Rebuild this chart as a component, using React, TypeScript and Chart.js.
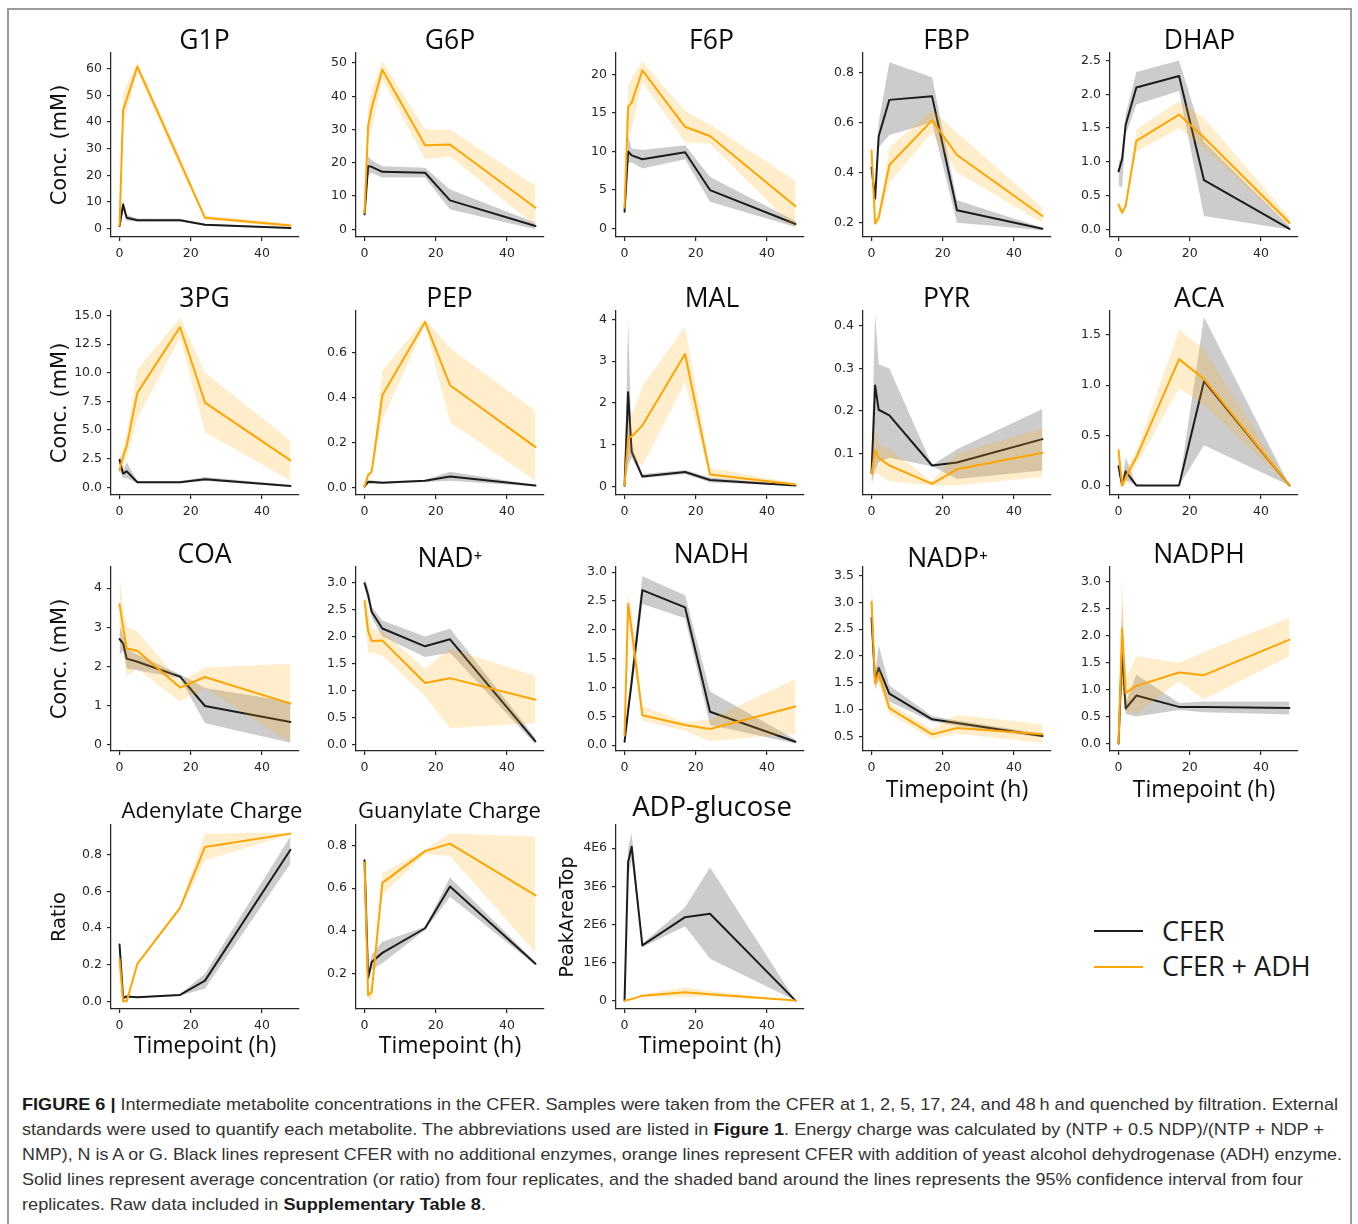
import React, { useEffect, useLayoutEffect, useRef } from "react";
import { Chart, registerables } from "chart.js";

Chart.register(...registerables);

// ---------------- data ----------------
const TIMEPOINTS = [0, 1, 2, 5, 17, 24, 48];
const X_TICKS = [0, 20, 40];
const SERIES = ["CFER", "CFER + ADH"];

// G1P
const G1P_CFER = [1.0, 9.1, 4.1, 3.2, 3.2, 1.5, 0.3];
const G1P_CFER_LO = [0.6, 7.0, 3.0, 2.6, 2.7, 1.1, 0.1];
const G1P_CFER_HI = [1.4, 11.0, 5.2, 3.8, 3.7, 1.9, 0.6];
const G1P_ADH = [1.2, 44.6, 48.5, 60.8, 25.0, 4.1, 1.2];
const G1P_ADH_LO = [0.6, 38.0, 44.0, 59.0, 23.0, 3.5, 0.6];
const G1P_ADH_HI = [1.8, 51.0, 54.0, 62.5, 27.0, 5.0, 2.0];
const G1P_TICKS = [0, 10, 20, 30, 40, 50, 60];

// G6P
const G6P_CFER = [4.5, 19.0, 18.8, 17.3, 17.0, 8.7, 1.0];
const G6P_CFER_LO = [3.6, 16.0, 17.0, 15.6, 15.6, 6.0, 0.0];
const G6P_CFER_HI = [5.5, 22.0, 20.8, 19.0, 18.5, 12.0, 2.0];
const G6P_ADH = [5.0, 31.0, 36.5, 48.0, 25.3, 25.5, 6.5];
const G6P_ADH_LO = [4.0, 25.5, 30.0, 45.0, 21.0, 22.0, 1.0];
const G6P_ADH_HI = [6.0, 37.0, 42.0, 50.5, 30.0, 30.0, 13.0];
const G6P_TICKS = [0, 10, 20, 30, 40, 50];

// F6P
const F6P_CFER = [2.2, 10.0, 9.5, 9.0, 9.9, 5.0, 0.6];
const F6P_CFER_LO = [1.8, 8.5, 8.6, 7.8, 9.0, 3.5, 0.2];
const F6P_CFER_HI = [3.0, 12.0, 10.4, 10.2, 10.8, 6.7, 1.0];
const F6P_ADH = [2.7, 15.8, 16.3, 20.5, 13.2, 12.0, 2.9];
const F6P_ADH_LO = [2.0, 11.5, 13.0, 19.0, 11.2, 11.0, 0.0];
const F6P_ADH_HI = [4.0, 18.5, 19.5, 21.7, 15.2, 13.5, 6.2];
const F6P_TICKS = [0, 5, 10, 15, 20];

// FBP
const FBP_CFER = [0.42, 0.297, 0.545, 0.69, 0.704, 0.25, 0.176];
const FBP_CFER_LO = [0.38, 0.28, 0.5, 0.55, 0.6, 0.2, 0.17];
const FBP_CFER_HI = [0.46, 0.31, 0.6, 0.84, 0.78, 0.29, 0.18];
const FBP_ADH = [0.488, 0.197, 0.22, 0.43, 0.608, 0.47, 0.227];
const FBP_ADH_LO = [0.44, 0.19, 0.2, 0.36, 0.56, 0.4, 0.2];
const FBP_ADH_HI = [0.52, 0.21, 0.24, 0.5, 0.65, 0.56, 0.26];
const FBP_TICKS = [0.2, 0.4, 0.6, 0.8];

// DHAP
const DHAP_CFER = [0.86, 1.04, 1.55, 2.1, 2.27, 0.73, 0.01];
const DHAP_CFER_LO = [0.65, 0.62, 1.4, 1.85, 2.05, 0.2, 0.0];
const DHAP_CFER_HI = [1.0, 1.1, 1.7, 2.33, 2.5, 1.3, 0.05];
const DHAP_ADH = [0.37, 0.25, 0.35, 1.31, 1.7, 1.36, 0.1];
const DHAP_ADH_LO = [0.3, 0.22, 0.3, 1.15, 1.5, 1.2, 0.05];
const DHAP_ADH_HI = [0.43, 0.28, 0.4, 1.48, 1.9, 1.65, 0.18];
const DHAP_TICKS = [0.0, 0.5, 1.0, 1.5, 2.0, 2.5];

// 3PG
const PG3_CFER = [2.4, 1.2, 1.4, 0.45, 0.45, 0.7, 0.12];
const PG3_CFER_LO = [1.5, 0.8, 0.8, 0.35, 0.35, 0.55, 0.05];
const PG3_CFER_HI = [3.1, 1.5, 2.2, 0.55, 0.55, 0.9, 0.2];
const PG3_ADH = [1.5, 2.7, 3.6, 8.25, 14.0, 7.4, 2.35];
const PG3_ADH_LO = [1.2, 2.0, 2.6, 6.0, 13.1, 4.8, 0.6];
const PG3_ADH_HI = [2.0, 3.6, 4.6, 10.3, 14.8, 10.0, 4.1];
const PG3_TICKS = [0.0, 2.5, 5.0, 7.5, 10.0, 12.5, 15.0];

// PEP
const PEP_CFER = [0.005, 0.025, 0.025, 0.022, 0.03, 0.049, 0.009];
const PEP_CFER_LO = [0.0, 0.015, 0.017, 0.018, 0.025, 0.03, 0.005];
const PEP_CFER_HI = [0.01, 0.035, 0.033, 0.027, 0.035, 0.07, 0.012];
const PEP_ADH = [0.005, 0.056, 0.07, 0.41, 0.736, 0.455, 0.18];
const PEP_ADH_LO = [0.0, 0.045, 0.06, 0.3, 0.72, 0.29, 0.03];
const PEP_ADH_HI = [0.01, 0.065, 0.08, 0.52, 0.75, 0.62, 0.34];
const PEP_TICKS = [0.0, 0.2, 0.4, 0.6];

// MAL
const MAL_CFER = [0.02, 2.26, 0.83, 0.24, 0.35, 0.16, 0.03];
const MAL_CFER_LO = [0.0, 0.5, 0.7, 0.2, 0.3, 0.1, 0.02];
const MAL_CFER_HI = [0.05, 4.0, 1.0, 0.3, 0.4, 0.22, 0.04];
const MAL_ADH = [0.03, 1.17, 1.2, 1.46, 3.17, 0.29, 0.05];
const MAL_ADH_LO = [0.0, 0.9, 0.7, 0.5, 2.5, 0.22, 0.03];
const MAL_ADH_HI = [0.05, 1.4, 1.7, 2.4, 3.83, 0.45, 0.08];
const MAL_TICKS = [0, 1, 2, 3, 4];

// PYR
const PYR_CFER = [0.055, 0.26, 0.203, 0.19, 0.072, 0.079, 0.134];
const PYR_CFER_LO = [0.03, 0.06, 0.08, 0.09, 0.07, 0.04, 0.06];
const PYR_CFER_HI = [0.09, 0.43, 0.31, 0.3, 0.073, 0.11, 0.205];
const PYR_ADH = [0.053, 0.108, 0.09, 0.072, 0.029, 0.063, 0.102];
const PYR_ADH_LO = [0.025, 0.055, 0.05, 0.035, 0.025, 0.025, 0.045];
const PYR_ADH_HI = [0.08, 0.16, 0.12, 0.11, 0.035, 0.1, 0.16];
const PYR_TICKS = [0.1, 0.2, 0.3, 0.4];

// ACA
const ACA_CFER = [0.19, 0.0, 0.14, 0.0, 0.0, 1.04, 0.0];
const ACA_CFER_LO = [0.1, 0.0, 0.05, 0.0, 0.0, 0.4, 0.0];
const ACA_CFER_HI = [0.3, 0.02, 0.28, 0.0, 0.0, 1.68, 0.0];
const ACA_ADH = [0.35, 0.0, 0.08, 0.28, 1.26, 1.06, 0.0];
const ACA_ADH_LO = [0.25, 0.0, 0.0, 0.2, 0.97, 0.8, 0.0];
const ACA_ADH_HI = [0.46, 0.02, 0.15, 0.34, 1.55, 1.36, 0.0];
const ACA_TICKS = [0.0, 0.5, 1.0, 1.5];

// COA
const COA_CFER = [2.7, 2.59, 2.2, 2.12, 1.74, 0.99, 0.58];
const COA_CFER_LO = [2.3, 2.4, 1.95, 1.9, 1.7, 0.55, 0.05];
const COA_CFER_HI = [3.05, 2.8, 2.45, 2.3, 1.8, 1.45, 1.1];
const COA_ADH = [3.59, 3.0, 2.46, 2.4, 1.46, 1.73, 1.05];
const COA_ADH_LO = [2.9, 2.5, 1.75, 1.95, 1.1, 1.45, 0.05];
const COA_ADH_HI = [4.35, 3.5, 3.0, 2.9, 1.6, 1.97, 2.07];
const COA_TICKS = [0, 1, 2, 3, 4];

// NAD+
const NAD_CFER = [2.99, 2.77, 2.46, 2.15, 1.82, 1.95, 0.06];
const NAD_CFER_LO = [2.9, 2.65, 2.35, 2.0, 1.62, 1.7, 0.0];
const NAD_CFER_HI = [3.1, 2.9, 2.55, 2.3, 2.0, 2.15, 0.12];
const NAD_ADH = [2.66, 2.1, 1.92, 1.93, 1.14, 1.23, 0.83];
const NAD_ADH_LO = [2.45, 1.7, 1.7, 1.65, 0.9, 0.3, 0.4];
const NAD_ADH_HI = [2.85, 2.5, 2.15, 2.1, 1.4, 1.78, 1.27];
const NAD_TICKS = [0.0, 0.5, 1.0, 1.5, 2.0, 2.5, 3.0];

// NADH
const NADH_CFER = [0.06, 0.6, 1.1, 2.69, 2.39, 0.58, 0.06];
const NADH_CFER_LO = [0.03, 0.45, 0.95, 2.45, 2.2, 0.35, 0.03];
const NADH_CFER_HI = [0.1, 0.75, 1.3, 2.93, 2.6, 0.93, 0.1];
const NADH_ADH = [0.17, 2.45, 2.0, 0.52, 0.35, 0.28, 0.67];
const NADH_ADH_LO = [0.1, 2.2, 1.7, 0.42, 0.25, 0.07, 0.2];
const NADH_ADH_HI = [0.25, 2.65, 2.3, 0.68, 0.4, 0.45, 1.15];
const NADH_TICKS = [0.0, 0.5, 1.0, 1.5, 2.0, 2.5, 3.0];

// NADP+
const NADP_CFER = [2.71, 1.53, 1.78, 1.3, 0.82, 0.75, 0.51];
const NADP_CFER_LO = [2.4, 1.4, 1.55, 1.15, 0.78, 0.7, 0.48];
const NADP_CFER_HI = [3.38, 1.65, 2.2, 1.45, 0.88, 0.8, 0.55];
const NADP_ADH = [3.01, 1.5, 1.68, 1.03, 0.54, 0.66, 0.54];
const NADP_ADH_LO = [2.7, 1.35, 1.5, 0.93, 0.45, 0.55, 0.38];
const NADP_ADH_HI = [3.48, 1.65, 1.85, 1.13, 0.63, 0.9, 0.73];
const NADP_TICKS = [0.5, 1.0, 1.5, 2.0, 2.5, 3.0, 3.5];

// NADPH
const NADPH_CFER = [0.0, 1.75, 0.65, 0.89, 0.68, 0.68, 0.66];
const NADPH_CFER_LO = [0.0, 1.1, 0.55, 0.5, 0.62, 0.58, 0.54];
const NADPH_CFER_HI = [0.02, 2.6, 0.75, 1.28, 0.75, 0.78, 0.78];
const NADPH_ADH = [0.0, 2.13, 0.94, 1.07, 1.32, 1.27, 1.93];
const NADPH_ADH_LO = [0.0, 1.2, 0.6, 0.55, 1.15, 0.82, 1.62];
const NADPH_ADH_HI = [0.02, 3.12, 1.2, 1.62, 1.5, 1.7, 2.33];
const NADPH_TICKS = [0.0, 0.5, 1.0, 1.5, 2.0, 2.5, 3.0];

// Adenylate Charge
const AEC_CFER = [0.31, 0.018, 0.026, 0.022, 0.035, 0.113, 0.827];
const AEC_CFER_LO = [0.29, 0.01, 0.02, 0.02, 0.03, 0.07, 0.75];
const AEC_CFER_HI = [0.33, 0.03, 0.03, 0.025, 0.04, 0.15, 0.9];
const AEC_ADH = [0.23, 0.0, 0.0, 0.204, 0.51, 0.842, 0.915];
const AEC_ADH_LO = [0.22, 0.0, 0.0, 0.2, 0.5, 0.77, 0.91];
const AEC_ADH_HI = [0.24, 0.005, 0.005, 0.21, 0.52, 0.915, 0.92];
const AEC_TICKS = [0.0, 0.2, 0.4, 0.6, 0.8];

// Guanylate Charge
const GEC_CFER = [0.73, 0.18, 0.255, 0.298, 0.413, 0.608, 0.247];
const GEC_CFER_LO = [0.7, 0.17, 0.22, 0.25, 0.405, 0.56, 0.24];
const GEC_CFER_HI = [0.76, 0.19, 0.29, 0.35, 0.42, 0.65, 0.255];
const GEC_ADH = [0.72, 0.1, 0.114, 0.625, 0.773, 0.808, 0.566];
const GEC_ADH_LO = [0.7, 0.09, 0.07, 0.57, 0.76, 0.75, 0.3];
const GEC_ADH_HI = [0.74, 0.11, 0.13, 0.67, 0.78, 0.855, 0.84];
const GEC_TICKS = [0.2, 0.4, 0.6, 0.8];

// ADP-glucose (PeakAreaTop)
const ADPG_CFER = [0, 3.64e6, 4.04e6, 1.45e6, 2.19e6, 2.28e6, 0];
const ADPG_CFER_LO = [0, 3.2e6, 3.7e6, 1.4e6, 1.95e6, 1.1e6, 0];
const ADPG_CFER_HI = [0, 4.0e6, 4.4e6, 1.5e6, 2.45e6, 3.5e6, 0];
const ADPG_ADH = [0, 0.02e6, 0.04e6, 0.13e6, 0.22e6, 0.17e6, 0];
const ADPG_ADH_LO = [0, 0.01e6, 0.03e6, 0.1e6, 0.1e6, 0.1e6, 0];
const ADPG_ADH_HI = [0, 0.03e6, 0.05e6, 0.16e6, 0.35e6, 0.25e6, 0];
const ADPG_TICKS = [0, 1e6, 2e6, 3e6, 4e6];

// ---------------- styling / layout ----------------
const COL_X = [111, 356, 616, 863, 1110];
const ROW_Y = [53, 311, 567, 825];
const PLOT_W = 188;
const PLOT_H = 184;
const PAD_L = 80;
const PAD_R = 14;
const X_MIN = -2.4;
const X_MAX = 50.4;

const INK = "#262626";
const BLACK = "#1c1c1c";
const ORANGE = "#ffa500";
const GRAY_BAND = "rgba(0,0,0,0.2)";
const ORANGE_BAND = "rgba(255,165,0,0.2)";
const TITLE_FONT = "'Open Sans', 'Noto Sans', sans-serif";
const TICK_FONT = "'DejaVu Sans', sans-serif";
const TICK_SIZE = 12.5;
const TITLE_LH = 0.8;

const fmtInt = (v: number) => String(Math.round(v));
const fmt1 = (v: number) => v.toFixed(1);
const fmtE6 = (v: number) => (v === 0 ? "0" : `${Math.round(v / 1e6)}E6`);

type Triple = [number[], number[], number[]];
type PanelSpec = {
  title: string;
  col: number;
  row: number;
  titleSize?: number;
  titleGap?: number;
  titleDx?: number;
  yMin: number;
  yMax: number;
  yTicks: number[];
  fmt: (v: number) => string;
  cfer: Triple;
  adh: Triple;
  yTitle?: string;
  yTitleSize?: number;
  yTitleX?: number;
  xTitleGap?: number;
};

const ROW_TITLE_GAP = [11.5, 11, 11, 13];

const PANELS: PanelSpec[] = [
  { title: "G1P", col: 0, row: 0, titleDx: -0.5, yMin: -3.1, yMax: 65.9, yTicks: G1P_TICKS, fmt: fmtInt,
    cfer: [G1P_CFER, G1P_CFER_LO, G1P_CFER_HI], adh: [G1P_ADH, G1P_ADH_LO, G1P_ADH_HI],
    yTitle: "Conc. (mM)", yTitleSize: 21, yTitleX: 61 },
  { title: "G6P", col: 1, row: 0, titleDx: 0, yMin: -2.3, yMax: 53, yTicks: G6P_TICKS, fmt: fmtInt,
    cfer: [G6P_CFER, G6P_CFER_LO, G6P_CFER_HI], adh: [G6P_ADH, G6P_ADH_LO, G6P_ADH_HI] },
  { title: "F6P", col: 2, row: 0, titleDx: 1.5, yMin: -1.08, yMax: 22.76, yTicks: F6P_TICKS, fmt: fmtInt,
    cfer: [F6P_CFER, F6P_CFER_LO, F6P_CFER_HI], adh: [F6P_ADH, F6P_ADH_LO, F6P_ADH_HI] },
  { title: "FBP", col: 3, row: 0, titleDx: -10.5, yMin: 0.143, yMax: 0.877, yTicks: FBP_TICKS, fmt: fmt1,
    cfer: [FBP_CFER, FBP_CFER_LO, FBP_CFER_HI], adh: [FBP_ADH, FBP_ADH_LO, FBP_ADH_HI] },
  { title: "DHAP", col: 4, row: 0, titleDx: -4.5, yMin: -0.11, yMax: 2.61, yTicks: DHAP_TICKS, fmt: fmt1,
    cfer: [DHAP_CFER, DHAP_CFER_LO, DHAP_CFER_HI], adh: [DHAP_ADH, DHAP_ADH_LO, DHAP_ADH_HI] },

  { title: "3PG", col: 0, row: 1, titleDx: -0.5, yMin: -0.67, yMax: 15.4, yTicks: PG3_TICKS, fmt: fmt1,
    cfer: [PG3_CFER, PG3_CFER_LO, PG3_CFER_HI], adh: [PG3_ADH, PG3_ADH_LO, PG3_ADH_HI],
    yTitle: "Conc. (mM)", yTitleSize: 21, yTitleX: 61 },
  { title: "PEP", col: 1, row: 1, titleDx: -0.5, yMin: -0.033, yMax: 0.785, yTicks: PEP_TICKS, fmt: fmt1,
    cfer: [PEP_CFER, PEP_CFER_LO, PEP_CFER_HI], adh: [PEP_ADH, PEP_ADH_LO, PEP_ADH_HI] },
  { title: "MAL", col: 2, row: 1, titleDx: 2, yMin: -0.2, yMax: 4.2, yTicks: MAL_TICKS, fmt: fmtInt,
    cfer: [MAL_CFER, MAL_CFER_LO, MAL_CFER_HI], adh: [MAL_ADH, MAL_ADH_LO, MAL_ADH_HI] },
  { title: "PYR", col: 3, row: 1, titleDx: -10.5, yMin: 0.0027, yMax: 0.435, yTicks: PYR_TICKS, fmt: fmt1,
    cfer: [PYR_CFER, PYR_CFER_LO, PYR_CFER_HI], adh: [PYR_ADH, PYR_ADH_LO, PYR_ADH_HI] },
  { title: "ACA", col: 4, row: 1, titleDx: -5, yMin: -0.096, yMax: 1.74, yTicks: ACA_TICKS, fmt: fmt1,
    cfer: [ACA_CFER, ACA_CFER_LO, ACA_CFER_HI], adh: [ACA_ADH, ACA_ADH_LO, ACA_ADH_HI] },

  { title: "COA", col: 0, row: 2, titleDx: -0.5, yMin: -0.16, yMax: 4.54, yTicks: COA_TICKS, fmt: fmtInt,
    cfer: [COA_CFER, COA_CFER_LO, COA_CFER_HI], adh: [COA_ADH, COA_ADH_LO, COA_ADH_HI],
    yTitle: "Conc. (mM)", yTitleSize: 21, yTitleX: 61 },
  { title: "NAD\u207A", col: 1, row: 2, titleGap: 7, titleDx: 0, yMin: -0.12, yMax: 3.29, yTicks: NAD_TICKS, fmt: fmt1,
    cfer: [NAD_CFER, NAD_CFER_LO, NAD_CFER_HI], adh: [NAD_ADH, NAD_ADH_LO, NAD_ADH_HI] },
  { title: "NADH", col: 2, row: 2, titleDx: 1.5, yMin: -0.1, yMax: 3.09, yTicks: NADH_TICKS, fmt: fmt1,
    cfer: [NADH_CFER, NADH_CFER_LO, NADH_CFER_HI], adh: [NADH_ADH, NADH_ADH_LO, NADH_ADH_HI] },
  { title: "NADP\u207A", col: 3, row: 2, titleGap: 7, titleDx: -9.5, yMin: 0.23, yMax: 3.66, yTicks: NADP_TICKS, fmt: fmt1,
    cfer: [NADP_CFER, NADP_CFER_LO, NADP_CFER_HI], adh: [NADP_ADH, NADP_ADH_LO, NADP_ADH_HI],
    xTitleGap: 39 },
  { title: "NADPH", col: 4, row: 2, titleDx: -5, yMin: -0.14, yMax: 3.28, yTicks: NADPH_TICKS, fmt: fmt1,
    cfer: [NADPH_CFER, NADPH_CFER_LO, NADPH_CFER_HI], adh: [NADPH_ADH, NADPH_ADH_LO, NADPH_ADH_HI],
    xTitleGap: 39 },

  { title: "Adenylate Charge", col: 0, row: 3, titleSize: 22, titleDx: 7, yMin: -0.042, yMax: 0.962, yTicks: AEC_TICKS, fmt: fmt1,
    cfer: [AEC_CFER, AEC_CFER_LO, AEC_CFER_HI], adh: [AEC_ADH, AEC_ADH_LO, AEC_ADH_HI],
    yTitle: "Ratio", yTitleSize: 19.5, yTitleX: 60, xTitleGap: 37 },
  { title: "Guanylate Charge", col: 1, row: 3, titleSize: 22, titleDx: -0.5, yMin: 0.036, yMax: 0.895, yTicks: GEC_TICKS, fmt: fmt1,
    cfer: [GEC_CFER, GEC_CFER_LO, GEC_CFER_HI], adh: [GEC_ADH, GEC_ADH_LO, GEC_ADH_HI],
    xTitleGap: 37 },
  { title: "ADP-glucose", col: 2, row: 3, titleSize: 27.5, titleGap: 17, titleDx: 2, yMin: -0.22e6, yMax: 4.61e6, yTicks: ADPG_TICKS, fmt: fmtE6,
    cfer: [ADPG_CFER, ADPG_CFER_LO, ADPG_CFER_HI], adh: [ADPG_ADH, ADPG_ADH_LO, ADPG_ADH_HI],
    yTitle: "PeakAreaTop", yTitleSize: 19, yTitleX: 568, xTitleGap: 37 },
];

const toPts = (arr: number[]) => TIMEPOINTS.map((t, i) => ({ x: t, y: arr[i] }));

function PanelChart({ p }: { p: PanelSpec }) {
  const ref = useRef<HTMLCanvasElement | null>(null);
  const titleSize = p.titleSize ?? 26.5;
  const titleLh = titleSize * TITLE_LH;
  const titleGap = p.titleGap ?? ROW_TITLE_GAP[p.row];
  const titlePadTop = 6;
  const titlePadBot = titleGap - titleLh / 2;
  const titleH = titlePadTop + titleLh + titlePadBot;
  const hasX = p.xTitleGap !== undefined;
  const xH = hasX ? 64 : 30;
  const xTitleSize = 23;
  const left = COL_X[p.col] - PAD_L;
  const top = Math.round(ROW_Y[p.row] - titleH);
  const width = PAD_L + PLOT_W + PAD_R;
  const height = ROW_Y[p.row] - top + PLOT_H + xH;

  useEffect(() => {
    if (!ref.current) return;
    const lineDs = (arr: number[], color: string, order: number, label: string) => ({
      label,
      data: toPts(arr),
      borderColor: color,
      borderWidth: 2,
      pointRadius: 0,
      tension: 0,
      fill: false,
      borderJoinStyle: "round",
      borderCapStyle: "round",
      order,
    });
    const bandDs = (arr: number[], color: string | undefined, order: number, fill: any) => ({
      label: "band",
      data: toPts(arr),
      borderColor: "rgba(0,0,0,0)",
      borderWidth: 0,
      pointRadius: 0,
      tension: 0,
      backgroundColor: color ?? "rgba(0,0,0,0)",
      fill,
      order,
    });
    const yTitleOffset = p.yTitle ? (p.yTitleX ?? 61) - left - (p.yTitleSize ?? 20) / 2 : 0;
    const dx = p.titleDx ?? 0;
    const titleShift = {
      id: "titleShift",
      afterLayout(chart: any) {
        const tb = chart.titleBlock;
        if (tb) {
          tb.left += dx;
          tb.right += dx;
        }
      },
    };
    const chart = new Chart(ref.current, {
      type: "line",
      data: {
        datasets: [
          bandDs(p.cfer[1], undefined, 6, false),
          bandDs(p.cfer[2], GRAY_BAND, 5, "-1"),
          lineDs(p.cfer[0], BLACK, 4, SERIES[0]),
          bandDs(p.adh[1], undefined, 3, false),
          bandDs(p.adh[2], ORANGE_BAND, 2, "-1"),
          lineDs(p.adh[0], ORANGE, 1, SERIES[1]),
        ] as any,
      },
      plugins: [titleShift],
      options: {
        animation: false,
        responsive: false,
        maintainAspectRatio: false,
        devicePixelRatio: 1,
        events: [],
        layout: { padding: { left: 0, right: PAD_R, top: 0, bottom: 0 } },
        plugins: {
          legend: { display: false },
          tooltip: { enabled: false },
          title: {
            display: true,
            text: p.title,
            fullSize: false,
            color: "#0d0d0d",
            font: { family: TITLE_FONT, size: titleSize, weight: "normal", lineHeight: TITLE_LH },
            padding: { top: titlePadTop, bottom: ROW_Y[p.row] - top - titlePadTop - titleLh },
          },
        },
        scales: {
          x: {
            type: "linear",
            min: X_MIN,
            max: X_MAX,
            afterBuildTicks: (s: any) => {
              s.ticks = X_TICKS.map((v) => ({ value: v }));
            },
            afterFit: (s: any) => {
              s.height = xH;
            },
            grid: { drawOnChartArea: false, drawTicks: true, tickLength: 4, color: INK, lineWidth: 1.2 },
            border: { display: true, color: INK, width: 1.25 },
            ticks: {
              font: { family: TICK_FONT, size: TICK_SIZE },
              color: INK,
              padding: 5,
              maxRotation: 0,
              autoSkip: false,
              callback: (v: any) => String(v),
            },
            title: hasX
              ? {
                  display: true,
                  text: "Timepoint (h)",
                  color: "#0d0d0d",
                  font: { family: TITLE_FONT, size: xTitleSize, lineHeight: 1 },
                  padding: { top: 0, bottom: xH - (p.xTitleGap as number) - xTitleSize / 2 },
                }
              : { display: false },
          },
          y: {
            type: "linear",
            min: p.yMin,
            max: p.yMax,
            afterBuildTicks: (s: any) => {
              s.ticks = p.yTicks.map((v) => ({ value: v }));
            },
            afterFit: (s: any) => {
              s.width = PAD_L;
            },
            grid: { drawOnChartArea: false, drawTicks: true, tickLength: 4, color: INK, lineWidth: 1.2 },
            border: { display: true, color: INK, width: 1.25 },
            ticks: {
              font: { family: TICK_FONT, size: TICK_SIZE },
              color: INK,
              padding: 5,
              autoSkip: false,
              callback: (v: any) => p.fmt(Number(v)),
            },
            title: p.yTitle
              ? {
                  display: true,
                  text: p.yTitle,
                  color: "#111",
                  font: { family: TICK_FONT, size: p.yTitleSize ?? 20, lineHeight: 1 },
                  padding: { top: yTitleOffset, bottom: 0 },
                }
              : { display: false },
          },
        },
      } as any,
    });
    return () => chart.destroy();
  }, []);

  return (
    <canvas
      ref={ref}
      width={width}
      height={height}
      style={{ position: "absolute", left, top, width, height }}
    />
  );
}

function FitLine({ target, center, children }: { target: number; center: number; children: React.ReactNode }) {
  const ref = useRef<HTMLSpanElement | null>(null);
  useLayoutEffect(() => {
    const el = ref.current;
    if (!el) return;
    el.style.transform = "none";
    const w = el.getBoundingClientRect().width;
    if (w > 0) el.style.transform = `scaleX(${target / w})`;
  }, [target]);
  return (
    <div
      style={{
        position: "absolute",
        left: 22,
        top: center - 12.5,
        height: 25,
        lineHeight: "25px",
        whiteSpace: "nowrap",
        fontFamily: "'Liberation Sans', Arial, sans-serif",
        fontSize: 17,
        color: "#333",
      }}
    >
      <span ref={ref} style={{ display: "inline-block", transformOrigin: "0 50%" }}>
        {children}
      </span>
    </div>
  );
}

const LEGEND_TEXT: React.CSSProperties = {
  position: "absolute",
  left: 1162,
  height: 36,
  lineHeight: "36px",
  fontFamily: TITLE_FONT,
  fontSize: 27,
  color: "#1a1a1a",
  whiteSpace: "nowrap",
};

export default function App() {
  const B = { color: "#1a1a1a", fontWeight: 700 } as React.CSSProperties;
  return (
    <div
      style={{
        position: "fixed",
        left: 0,
        top: 0,
        width: 1358,
        height: 1224,
        overflow: "hidden",
        background: "#fff",
      }}
    >
      <div
        style={{
          position: "absolute",
          left: 7,
          top: 8,
          width: 1345,
          height: 1240,
          border: "2px solid #9a9a9a",
          boxSizing: "border-box",
        }}
      />
      {PANELS.map((p) => (
        <PanelChart key={p.title} p={p} />
      ))}

      {/* legend */}
      <div style={{ position: "absolute", left: 1094, top: 930, width: 49, height: 2, background: BLACK }} />
      <div style={{ position: "absolute", left: 1094, top: 965.5, width: 49, height: 2, background: ORANGE }} />
      <div style={{ ...LEGEND_TEXT, top: 931 - 18 }}>{SERIES[0]}</div>
      <div style={{ ...LEGEND_TEXT, top: 966 - 18 }}>{SERIES[1]}</div>

      {/* caption */}
      <FitLine target={1316} center={1104}>
        <span style={B}>FIGURE 6 |</span> Intermediate metabolite concentrations in the CFER. Samples were taken from the
        CFER at 1, 2, 5, 17, 24, and 48{"\u2009"}h and quenched by filtration. External
      </FitLine>
      <FitLine target={1302} center={1129}>
        standards were used to quantify each metabolite. The abbreviations used are listed in{" "}
        <span style={B}>Figure 1</span>. Energy charge was calculated by (NTP + 0.5 NDP)/(NTP + NDP +
      </FitLine>
      <FitLine target={1320} center={1154}>
        NMP), N is A or G. Black lines represent CFER with no additional enzymes, orange lines represent CFER with
        addition of yeast alcohol dehydrogenase (ADH) enzyme.
      </FitLine>
      <FitLine target={1281} center={1179}>
        Solid lines represent average concentration (or ratio) from four replicates, and the shaded band around the lines
        represents the 95% confidence interval from four
      </FitLine>
      <FitLine target={464} center={1204}>
        replicates. Raw data included in <span style={B}>Supplementary Table 8</span>.
      </FitLine>
    </div>
  );
}
